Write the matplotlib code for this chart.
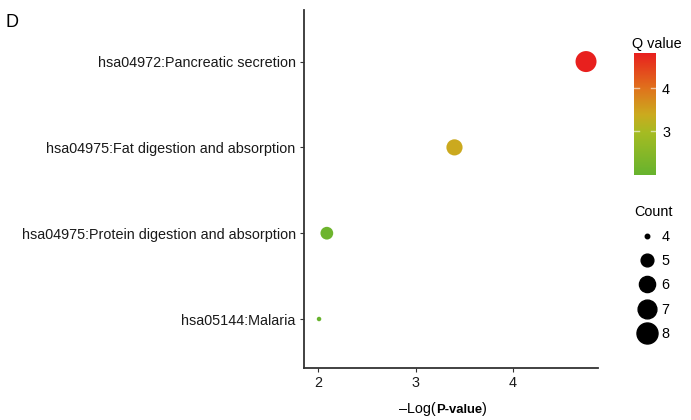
import numpy as np
import matplotlib
matplotlib.use('Agg')
import matplotlib.pyplot as plt
from matplotlib.colors import LinearSegmentedColormap, Normalize
from matplotlib.lines import Line2D

plt.rcParams['font.family'] = ['Liberation Sans', 'DejaVu Sans']

# Data
pathways = ['hsa05144:Malaria',
            'hsa04975:Protein digestion and absorption',
            'hsa04975:Fat digestion and absorption',
            'hsa04972:Pancreatic secretion']
neg_log_p = [2.01, 2.09, 3.40, 4.75]
q_values = [2.00, 2.10, 3.40, 4.80]
counts = [4, 5, 6, 8]
legend_counts = [4, 5, 6, 7, 8]

# colour scale (green -> red) like the reference
cmap = LinearSegmentedColormap.from_list(
    'qv', [(0.0, '#66b32e'), (0.35, '#a5bb22'), (0.5, '#cbaa1e'),
           (0.72, '#e0701c'), (1.0, '#e8201e')])
norm = Normalize(vmin=1.98, vmax=4.81)


def count_to_diam(c, dmin=4.5, dmax=21.0, lo=4, hi=8):
    # area-style size scale, diameter in pixels
    return dmin + (dmax - dmin) * np.sqrt((np.asarray(c, float) - lo) / (hi - lo))


px2pt = 72.0 / 100.0

fig = plt.figure(figsize=(6.91, 4.2), dpi=100)
ax = fig.add_axes([0.44, 0.124, 0.425, 0.852])

ypos = np.arange(1, len(pathways) + 1)
sizes = (count_to_diam(counts) * px2pt) ** 2
ax.scatter(neg_log_p, ypos, s=sizes, c=q_values, cmap=cmap, norm=norm,
           edgecolors='none', zorder=3)

ax.set_yticks(ypos)
ax.set_yticklabels(pathways, fontsize=10.4, color='#1a1a1a')
ax.set_ylim(0.43, 4.6)
ax.set_xlim(1.856, 4.87)
ax.set_xticks([2, 3, 4])
ax.tick_params(axis='x', labelsize=10.4, length=3, width=0.8, colors='#333333',
               labelcolor='#1a1a1a', pad=3)
ax.tick_params(axis='y', length=3, width=0.8, colors='#333333',
               labelcolor='#1a1a1a', pad=3)
for side in ['top', 'right']:
    ax.spines[side].set_visible(False)
for side in ['left', 'bottom']:
    ax.spines[side].set_color('#333333')
    ax.spines[side].set_linewidth(1.3)

# x label: "–Log(" + bold "P-value" + ")"
t1 = fig.text(0.578, 0.017, '\u2013Log(', fontsize=10.4, ha='left', va='baseline')
t2 = ax.annotate('P-value', xy=(1, 0), xycoords=t1, fontsize=9.4,
                 fontweight='bold', ha='left', va='bottom')
ax.annotate(')', xy=(1, 0), xycoords=t2, fontsize=10.4, ha='left', va='bottom')

# panel letter
fig.text(0.008, 0.935, 'D', fontsize=13)

# colour bar
cax = fig.add_axes([0.917, 0.583, 0.033, 0.29])
sm = plt.cm.ScalarMappable(cmap=cmap, norm=norm)
cb = fig.colorbar(sm, cax=cax, ticks=[3, 4])
cb.outline.set_visible(False)
cb.ax.tick_params(length=0, labelsize=10.4, pad=4)
for v in [3, 4]:
    cax.plot([0, 0.22], [v, v], color='white', lw=1, alpha=0.6, transform=cax.get_yaxis_transform())
    cax.plot([0.78, 1], [v, v], color='white', lw=1, alpha=0.6, transform=cax.get_yaxis_transform())
fig.text(0.915, 0.885, 'Q value', fontsize=10.4)

# size legend
handles = [Line2D([], [], ls='none', marker='o', color='black',
                  markersize=float(count_to_diam(c)) * px2pt)
           for c in legend_counts]
leg = fig.legend(handles, [str(c) for c in legend_counts], title='Count',
                 loc='upper left', bbox_to_anchor=(0.909, 0.525),
                 frameon=False, fontsize=10.4, title_fontsize=10.4,
                 labelspacing=0.72, handlelength=1.8, handletextpad=0.1,
                 borderaxespad=0)
leg._legend_box.align = 'left'

fig.savefig('out.png', dpi=100)
